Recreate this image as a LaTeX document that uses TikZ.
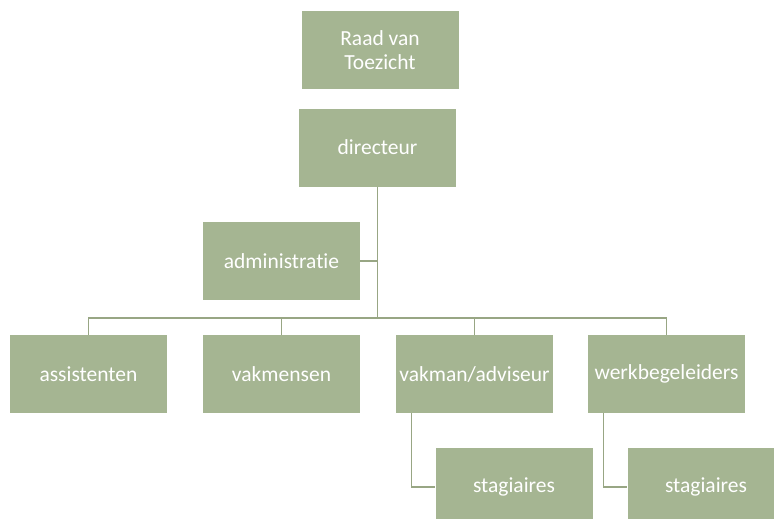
\documentclass[tikz,border=0pt]{standalone}
\usepackage{fontspec}
\setmainfont[Ligatures={NoCommon,NoContextual}]{Carlito}
\definecolor{boxfill}{HTML}{A5B592}
\definecolor{linec}{HTML}{98A684}
\begin{document}
\begin{tikzpicture}[x=1pt,y=-1pt,
  orgbox/.style={fill=boxfill,draw=none,inner sep=0pt,minimum width=157pt,minimum height=78pt,
    text=white,font=\fontsize{21.5}{24.5}\selectfont,align=center},
  conn/.style={draw=linec,line width=1.8pt}]
\useasboundingbox (0,0) rectangle (774,519);
\node[orgbox] (raad) at (380,50) {Raad van\\Toezicht};
\node[orgbox] (dir) at (377.5,147.5) {directeur};
\node[orgbox] (adm) at (281.5,261) {administratie};
\node[orgbox] (ass) at (88.5,374) {assistenten};
\node[orgbox] (vak) at (281.5,374) {vakmensen};
\node[orgbox] (adv) at (474.5,374) {vakman/adviseur};
\node[orgbox] (wrk) at (666.5,374) {werkbegeleiders};
\node[orgbox] (st1) at (514,487) {stagiaires};
\node[orgbox] (st2) at (706,487) {stagiaires};
\coordinate (bus) at (377.5,318);
\draw[conn] (dir.south) -- (bus);
\draw[conn] (adm.east) -- (adm.east -| dir.south);
\draw[conn] (ass.north) -- (ass.north |- bus) -- (wrk.north |- bus) -- (wrk.north);
\draw[conn] (vak.north) -- (vak.north |- bus);
\draw[conn] (adv.north) -- (adv.north |- bus);
\draw[conn] ([xshift=-63pt]adv.south) |- (st1.west);
\draw[conn] ([xshift=-63pt]wrk.south) |- (st2.west);
\end{tikzpicture}
\end{document}
